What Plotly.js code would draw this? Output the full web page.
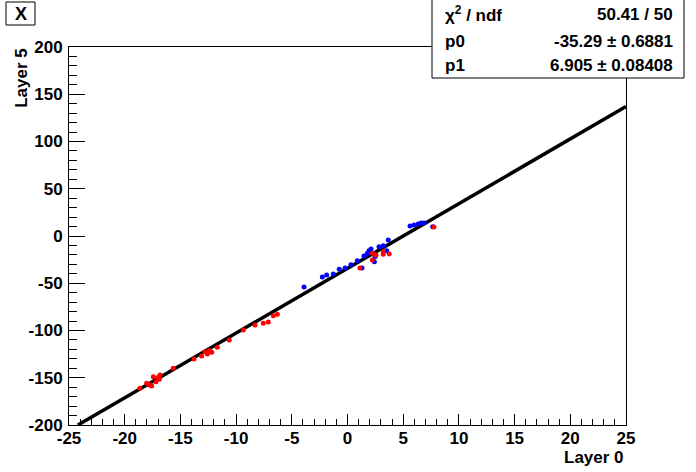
<!DOCTYPE html>
<html>
<head>
<meta charset="utf-8">
<script src="https://cdn.plot.ly/plotly-3.0.1.min.js"></script>
<style>html,body{margin:0;padding:0;background:#fff;}#chart{width:696px;height:472px;}</style>
</head>
<body>
<div id="chart"></div>
<script>
// Fit line (start and end of the black band)
const fitX = [-24.2, 25];
const fitY = [-200, 137];

// Blue points
const blueX = [-3.90, -2.26, -1.87, -1.27, -0.74, -0.22, 0.31, 0.88, 1.30, 1.48, 1.78, 1.93, 2.11, 2.41, 2.47, 2.83, 3.21, 3.52, 3.66, 5.61, 5.97, 6.33, 6.60, 6.87, 7.65];
const blueY = [-54.0, -43.4, -41.3, -40.2, -35.2, -33.9, -30.4, -26.1, -33.9, -21.2, -18.3, -15.6, -13.8, -27.2, -21.9, -11.3, -10.3, -15.6, -4.2, 10.6, 11.6, 12.7, 13.8, 13.8, 9.8];

// Red points
const redX = [-18.63, -18.03, -17.79, -17.58, -17.43, -17.19, -16.98, -16.83, -16.89, -15.64, -13.78, -13.09, -12.79, -12.58, -12.41, -12.19, -11.69, -10.61, -9.35, -8.30, -7.56, -7.11, -6.66, -6.30, 1.12, 2.23, 2.56, 2.23, 3.21, 3.21, 3.75, 7.76];
const redY = [-161.2, -155.9, -157.7, -158.7, -148.9, -154.2, -149.5, -147.1, -151.6, -140.0, -130.2, -127.0, -122.4, -124.9, -121.4, -123.1, -117.8, -110.1, -99.5, -94.2, -92.4, -91.0, -84.3, -82.9, -33.9, -18.3, -20.1, -25.4, -16.6, -19.4, -19.0, 9.5];

// Tick labels
const xTickVals = [-25, -20, -15, -10, -5, 0, 5, 10, 15, 20, 25];
const xTickText = ["-25", "-20", "-15", "-10", "-5", "0", "5", "10", "15", "20", "25"];
const yTickVals = [-200, -150, -100, -50, 0, 50, 100, 150, 200];
const yTickText = ["-200", "-150", "-100", "-50", "0", "50", "100", "150", "200"];

// Stats box
const statLabels = ["χ<sup>2</sup> / ndf", "p0", "p1"];
const statValues = ["50.41 / 50", "-35.29 ± 0.6881", "6.905 ± 0.08408"];

const FONT = "Liberation Sans, Arial, Helvetica, sans-serif";

const traces = [
  {x: fitX, y: fitY, mode: "lines", line: {color: "#000", width: 3.5}, hoverinfo: "skip"},
  {x: blueX, y: blueY, mode: "markers", marker: {color: "#0000ff", size: 5, symbol: "circle"}},
  {x: redX, y: redY, mode: "markers", marker: {color: "#ff0000", size: 5, symbol: "circle"}}
];

const W = 696, H = 472, L = 69, R = 626, T = 47, B = 425;
const px = v => (v - L) / (R - L);
const py = v => (B - v) / (B - T);

const annotations = [];
const statRows = [14, 41, 66];
for (let i = 0; i < statLabels.length; i++) {
  annotations.push({xref: "paper", yref: "paper", x: px(443), y: py(statRows[i]), xanchor: "left", yanchor: "middle",
    text: "<b>" + statLabels[i] + "</b>", showarrow: false, font: {family: FONT, size: 17, color: "#000"}});
  annotations.push({xref: "paper", yref: "paper", x: px(675), y: py(statRows[i]), xanchor: "right", yanchor: "middle",
    text: "<b>" + statValues[i] + "</b>", showarrow: false, font: {family: FONT, size: 17, color: "#000"}});
}
annotations.push({xref: "paper", yref: "paper", x: px(20.5), y: py(14), xanchor: "center", yanchor: "middle",
  text: "<b>X</b>", showarrow: false, font: {family: FONT, size: 18, color: "#000"}});
annotations.push({xref: "paper", yref: "paper", x: 1, y: py(457), xanchor: "right", yanchor: "middle",
  text: "<b>Layer 0</b>", showarrow: false, font: {family: FONT, size: 17, color: "#000"}});
annotations.push({xref: "paper", yref: "paper", x: px(22), y: 1.003, xanchor: "center", yanchor: "top", textangle: -90,
  text: "<b>Layer 5</b>", showarrow: false, font: {family: FONT, size: 17, color: "#000"}});

const shapes = [
  {type: "rect", xref: "paper", yref: "paper", x0: px(432), x1: px(684), y0: py(78), y1: py(-1),
    line: {color: "#000", width: 1}, fillcolor: "#fff", layer: "above"},
  {type: "rect", xref: "paper", yref: "paper", x0: px(6), x1: px(35), y0: py(25), y1: py(2),
    line: {color: "#000", width: 1}, fillcolor: "#fff", layer: "above"}
];

const axisCommon = {
  showgrid: false, zeroline: false, showline: true, linecolor: "#000", linewidth: 1, mirror: true,
  ticks: "inside", tickcolor: "#000", tickwidth: 1, tickmode: "array",
  tickfont: {family: FONT, size: 17, color: "#000", weight: "bold"}
};

const layout = {
  width: W, height: H,
  margin: {l: L, r: W - R, t: T, b: H - B, pad: 0},
  paper_bgcolor: "#fff", plot_bgcolor: "#fff",
  showlegend: false,
  xaxis: Object.assign({}, axisCommon, {range: [-25, 25], tickvals: xTickVals, ticktext: xTickText, ticklen: 11, ticklabelstandoff: -2,
    minor: {tickmode: "linear", tick0: -25, dtick: 1, ticklen: 6, ticks: "inside", tickcolor: "#000", tickwidth: 1, showgrid: false}}),
  yaxis: Object.assign({}, axisCommon, {range: [-200, 200], tickvals: yTickVals, ticktext: yTickText, ticklen: 16, ticklabelstandoff: 2,
    minor: {tickmode: "linear", tick0: -200, dtick: 10, ticklen: 8, ticks: "inside", tickcolor: "#000", tickwidth: 1, showgrid: false}}),
  annotations: annotations,
  shapes: shapes
};

Plotly.newPlot("chart", traces, layout, {displayModeBar: false, staticPlot: true});
</script>
</body>
</html>
